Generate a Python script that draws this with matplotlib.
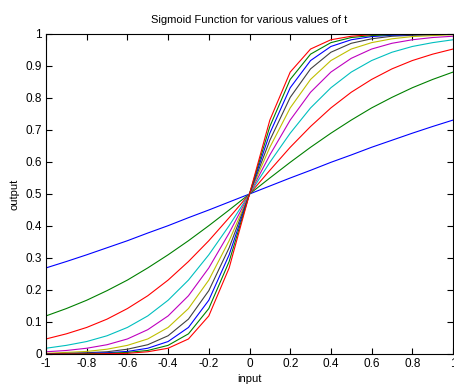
import matplotlib
matplotlib.use("Agg")
import matplotlib.pyplot as plt

plt.rcParams['font.family'] = ['Liberation Sans', 'DejaVu Sans']

x = [-1.0, -0.9, -0.8, -0.7, -0.6, -0.5, -0.4, -0.3, -0.2, -0.1, 0.0,
     0.1, 0.2, 0.3, 0.4, 0.5, 0.6, 0.7, 0.8, 0.9, 1.0]

t1 = [0.269, 0.289, 0.310, 0.332, 0.354, 0.378, 0.401, 0.426, 0.450, 0.475, 0.5,
      0.525, 0.550, 0.574, 0.599, 0.622, 0.646, 0.668, 0.690, 0.711, 0.731]
t2 = [0.119, 0.142, 0.168, 0.198, 0.231, 0.269, 0.310, 0.354, 0.401, 0.450, 0.5,
      0.550, 0.599, 0.646, 0.690, 0.731, 0.769, 0.802, 0.832, 0.858, 0.881]
t3 = [0.047, 0.063, 0.083, 0.109, 0.142, 0.182, 0.231, 0.289, 0.354, 0.426, 0.5,
      0.574, 0.646, 0.711, 0.769, 0.818, 0.858, 0.891, 0.917, 0.937, 0.953]
t4 = [0.018, 0.027, 0.039, 0.057, 0.083, 0.119, 0.168, 0.231, 0.310, 0.401, 0.5,
      0.599, 0.690, 0.769, 0.832, 0.881, 0.917, 0.943, 0.961, 0.973, 0.982]
t5 = [0.007, 0.011, 0.018, 0.029, 0.047, 0.076, 0.119, 0.182, 0.269, 0.378, 0.5,
      0.622, 0.731, 0.818, 0.881, 0.924, 0.953, 0.971, 0.982, 0.989, 0.993]
t6 = [0.002, 0.005, 0.008, 0.015, 0.027, 0.047, 0.083, 0.142, 0.231, 0.354, 0.5,
      0.646, 0.769, 0.858, 0.917, 0.953, 0.973, 0.985, 0.992, 0.995, 0.998]
t7 = [0.001, 0.002, 0.004, 0.007, 0.015, 0.029, 0.057, 0.109, 0.198, 0.332, 0.5,
      0.668, 0.802, 0.891, 0.943, 0.971, 0.985, 0.993, 0.996, 0.998, 0.999]
t8 = [0.000, 0.001, 0.002, 0.004, 0.008, 0.018, 0.039, 0.083, 0.168, 0.310, 0.5,
      0.690, 0.832, 0.917, 0.961, 0.982, 0.992, 0.996, 0.998, 0.999, 1.000]
t9 = [0.000, 0.000, 0.001, 0.002, 0.005, 0.011, 0.027, 0.063, 0.142, 0.289, 0.5,
      0.711, 0.858, 0.937, 0.973, 0.989, 0.995, 0.998, 0.999, 1.000, 1.000]
t10 = [0.000, 0.000, 0.000, 0.001, 0.002, 0.007, 0.018, 0.047, 0.119, 0.269, 0.5,
       0.731, 0.881, 0.953, 0.982, 0.993, 0.998, 0.999, 1.000, 1.000, 1.000]

series = [t1, t2, t3, t4, t5, t6, t7, t8, t9, t10]
colors = ['#0000ff', '#008000', '#ff0000', '#00bfbf', '#bf00bf',
          '#bfbf00', '#404040', '#0000ff', '#008000', '#ff0000']

xticks = [-1, -0.8, -0.6, -0.4, -0.2, 0, 0.2, 0.4, 0.6, 0.8, 1]
xticklabels = ['-1', '-0.8', '-0.6', '-0.4', '-0.2', '0', '0.2', '0.4', '0.6', '0.8', '1']
yticks = [0, 0.1, 0.2, 0.3, 0.4, 0.5, 0.6, 0.7, 0.8, 0.9, 1]
yticklabels = ['0', '0.1', '0.2', '0.3', '0.4', '0.5', '0.6', '0.7', '0.8', '0.9', '1']

fig = plt.figure(figsize=(4.54, 3.84), dpi=100)
ax = fig.add_axes([46/454, 30/384, 407/454, 320/384])

for s, c in zip(series, colors):
    ax.plot(x, s, color=c, lw=0.8)

ax.set_xlim(-1, 1)
ax.set_ylim(0, 1)
ax.set_xticks(xticks)
ax.set_xticklabels(xticklabels)
ax.set_yticks(yticks)
ax.set_yticklabels(yticklabels)
ax.tick_params(direction='in', length=4, width=0.8, labelsize=8.5,
               top=True, right=True, pad=3)
for sp in ax.spines.values():
    sp.set_linewidth(0.8)

ax.set_title('Sigmoid Function for various values of t', fontsize=8, pad=8)
ax.set_xlabel('input', fontsize=8, labelpad=3)
ax.set_ylabel('output', fontsize=8, labelpad=4)

fig.savefig('out.png', dpi=100)
